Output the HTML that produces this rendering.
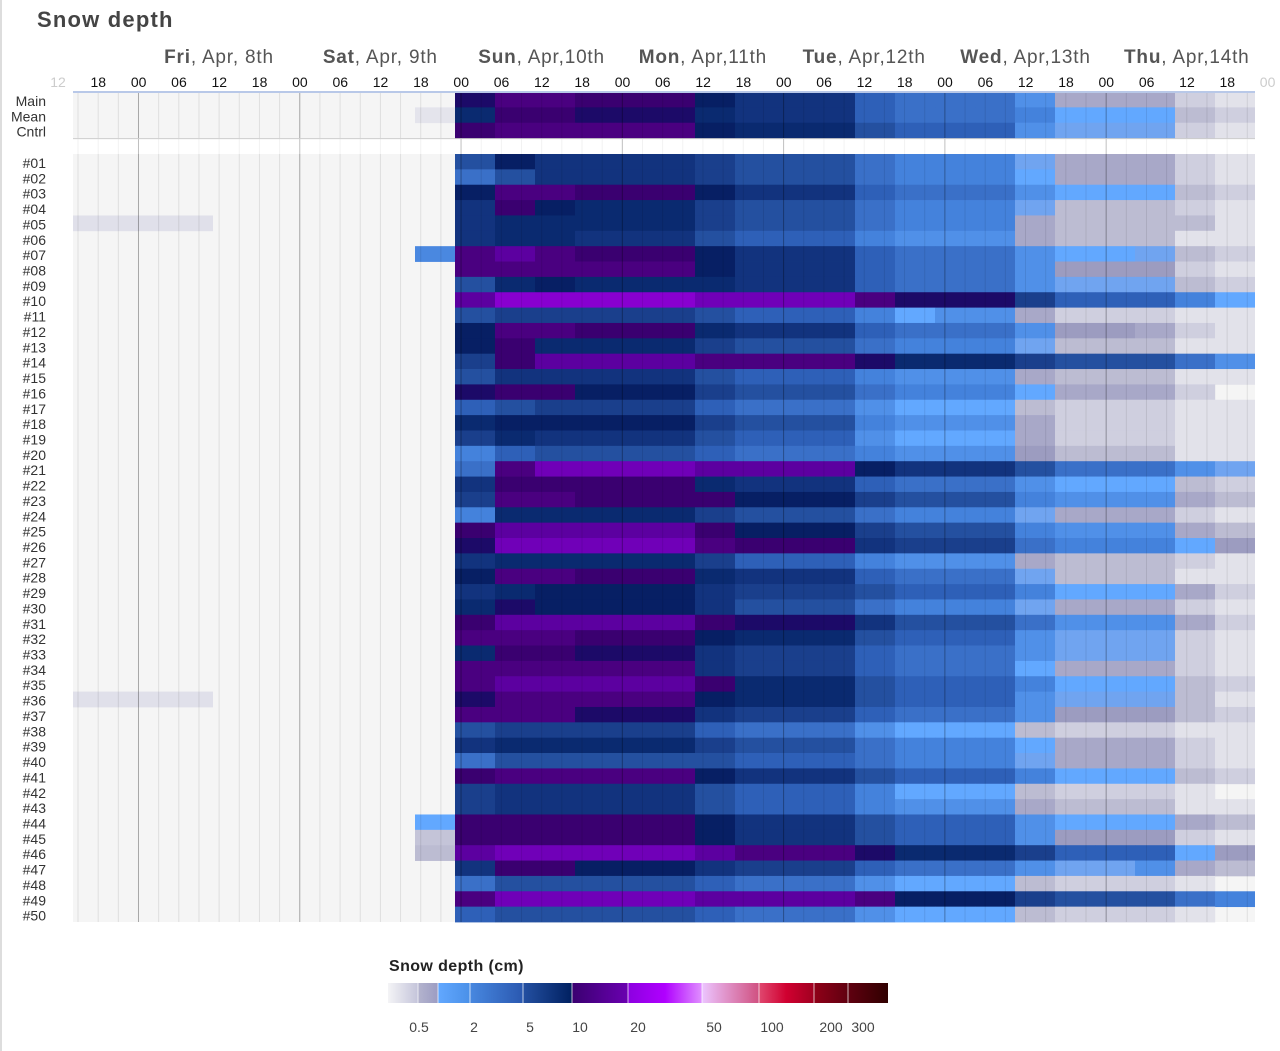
<!DOCTYPE html>
<html><head><meta charset="utf-8">
<style>
body{margin:0;width:1280px;height:1051px;background:#fff;font-family:"Liberation Sans",sans-serif;position:relative;overflow:hidden}
#pg{position:absolute;left:0;top:0;width:1280px;height:1051px;border-left:2px solid #ddd;box-sizing:border-box}
</style></head><body><div id="pg"></div>
<svg id="s" width="1280" height="1051" style="position:absolute;left:0;top:0" xmlns="http://www.w3.org/2000/svg"></svg>
<script>
const P={A:'#e2e2ea',B:'#cfcfdf',C:'#bcbcd2',D:'#a8a8c8',E:'#9c9cc0',F:'#62a8ff',G:'#70a4f0',H:'#5090e8',I:'#4482dc',J:'#3a70c8',K:'#2e60b8',L:'#2450a0',M:'#1a3f8c',N:'#12337e',O:'#0a2a70',P:'#071f64',Q:'#1c0a68',R:'#3a0070',S:'#4a0080',T:'#5c00a0',U:'#7000b8',V:'#8800d0','.':null};
function ex(spec){return spec.replace(/\s/g,'');}
const rows=[
['Main',"Q SS RRR P NNN K JJJ H DDD B A"],
['Mean',"O RR QQQ O NNN K JJJ I FFF C B"],
['Cntrl',"R SSSSS P OOO L KKK H GGG B A"],
null,
['#01',"L P NNNN M LLL J III G DDD B A"],
['#02',"J L NNNN M LLL J III F DDD B A"],
['#03',"P SSRRR P NNN K JJJ H FFF C B"],
['#04',"N R P OOO M LLL J III G CCC B A"],
['#05',"N O OOOO M LLL J III D CCC C A"],
['#06',"N OO NNN L KKK I HHH D CCC A A"],
['#07',"S T SRRR P NNN K JJJ H FFG C B"],
['#08',"SSSSSS P NNN K JJJ H EEE B A"],
['#09',"L O P OOO O NNN K JJJ H GGG C B"],
['#10',"T VVVVV U UUU S QQQ M KKK I F"],
['#11',"L MMMMM L KKK I FHH D BBB A A"],
['#12',"P SS RRR O NNN K JJJ H EED B A"],
['#13',"P R OOOO M LLL J III G CCC A A"],
['#14',"M R TTTT S SSS Q OOO M LLL J H"],
['#15',"L NNNNN L KKK I HHH D CCC A A"],
['#16',"Q RR PPP M LLL J III F DDD B ."],
['#17',"K L MMMM K JJJ H FFF C BBB A A"],
['#18',"O PPPPP M LLL I HHH D BBB A A"],
['#19',"M O NNNN L KKK H FFF D BBB A A"],
['#20',"I K LLLL K JJJ I HHH E CCC A A"],
['#21',"J S UUUU T TTT P NNN L JJJ H G"],
['#22',"N RRRRR O NNN K JJJ H FFF C B"],
['#23',"M SS RRR R PPP M LLL I HHH D C"],
['#24',"I OOOOO M LLL J III G DDD B A"],
['#25',"R TTTTT R PPP M LLL I HHH D C"],
['#26',"Q UUUUU S RRR N MMM J III F E"],
['#27',"N OOOOO M KKK I HHH D CCC B A"],
['#28',"P SS RRR O NNN K JJJ G CCC A A"],
['#29',"N O PPPP N MMM L KKK I FFF D B"],
['#30',"O Q PPPP N LLL J III G DDD B A"],
['#31',"R TTTTT R QQQ N LLL J HHH D B"],
['#32',"S SSRRR P OOO L KKK H GGG B A"],
['#33',"O RR QQQ N MMM K JJJ H GGG B A"],
['#34',"S SSSSS N MMM K JJJ F DDD B A"],
['#35',"S TTTTT R OOO L KKK I FFF C B"],
['#36',"Q SSSSS P OOO L KKK H GGG C A"],
['#37',"S SS QQQ N MMM K JJJ H EEE C B"],
['#38',"L MMMMM K JJJ H FFF C BBB A A"],
['#39',"N OOOOO M LLL J III F DDD B A"],
['#40',"J LLLLL L KKK J III G DDD B A"],
['#41',"R SSSSS P NNN L KKK I FFF C B"],
['#42',"M NNNNN L KKK I FFF C BBB A ."],
['#43',"M NNNNN L KKK I HHH D CCC A A"],
['#44',"R RRRRR P NNN L KKK H FFF D C"],
['#45',"R RRRRR P NNN L KKK H EEE B A"],
['#46',"T UUUUU T SSS Q OOO M KKK F E"],
['#47',"N RR PPP N MMM K JJJ H GGH D C"],
['#48',"J LLLLL K JJJ H FFF C BBB A ."],
['#49',"S UUUUU T TTT S PPP M LLL J I"],
['#50',"K LLLLL K JJJ H FFF C BBB A ."]
];
const extra={'Mean':[[415,455,'#e4e4ec']],'#05':[[73,213,'#e0e0ea']],'#36':[[73,213,'#e0e0ea']],'#07':[[415,455,'#4a88e0']],'#44':[[415,455,'#62a8ff']],'#45':[[415,455,'#c4c4d8']],'#46':[[415,455,'#bcbcd2']]};
const s=document.getElementById('s');let h='';
const X0=73,X1=1255,TOP=92,RH=15.36;
function rect(x,y,w,hh,c){h+=`<rect x="${x}" y="${y}" width="${w}" height="${hh}" fill="${c}"/>`;}
function text(x,y,t,sz,fill,anc,wt,ls){h+=`<text x="${x}" y="${y}" font-size="${sz}" fill="${fill}" text-anchor="${anc||'middle'}" font-family="Liberation Sans, sans-serif"${wt?` font-weight="${wt}"`:''}${ls?` letter-spacing="${ls}"`:''}>${t}</text>`;}
rect(X0,TOP,X1-X0,3*RH,'#f5f5f5');
const M0=154;
rect(X0,M0,X1-X0,50*RH,'#f5f5f5');
rows.forEach((r,i)=>{
 if(r===null){return;}
 const yy=i<3?TOP+i*RH:M0+(i-4)*RH;
 const codes=ex(r[1]);
 if(extra[r[0]])extra[r[0]].forEach(e=>rect(e[0],yy,e[1]-e[0],RH+0.4,e[2]));
 for(let b=0;b<codes.length&&b<20;b++){const c=P[codes[b]];if(!c)continue;const x=455+40*b;const w=b==19?X1-x:40.2;rect(x,yy,w,RH+0.4,c);}
 text(46,yy+14,r[0],14,'#333','end');
});
for(let k=0;k<60;k++){const x=78+20.16*k;if(x>X1)break;const hr=(15+3*k)%24;const dark=hr==0;
 const col=dark?'rgba(0,0,0,0.32)':'rgba(0,0,0,0.09)';
 h+=`<line x1="${x}" y1="${TOP}" x2="${x}" y2="${TOP+3*RH}" stroke="${col}" stroke-width="1"/>`;
 h+=`<line x1="${x}" y1="${M0}" x2="${x}" y2="${M0+50*RH}" stroke="${col}" stroke-width="1"/>`;
 h+=`<line x1="${x}" y1="${TOP+3*RH}" x2="${x}" y2="${M0}" stroke="${dark?'rgba(0,0,0,0.25)':'rgba(0,0,0,0.05)'}" stroke-width="1"/>`;
}
h+=`<line x1="${X0}" y1="${TOP}" x2="${X1}" y2="${TOP}" stroke="#b8c8e8" stroke-width="2"/>`;
h+=`<line x1="${X0}" y1="${TOP+3*RH+0.5}" x2="${X1}" y2="${TOP+3*RH+0.5}" stroke="#ccc" stroke-width="1"/>`;
const hrs=['12','18','00','06'];
for(let k=0;k<31;k++){const x=58+40.32*k;const lt=(k==0||k==30);text(x,87,hrs[k%4],14,lt?'#ccc':'#111');}
const days=[['Fri',', Apr, 8th'],['Sat',', Apr, 9th'],['Sun',', Apr,10th'],['Mon',', Apr,11th'],['Tue',', Apr,12th'],['Wed',', Apr,13th'],['Thu',', Apr,14th']];
days.forEach((d,i)=>{const x=219+161.3*i;h+=`<text x="${x}" y="63" font-size="19" letter-spacing="0.8" fill="#555" text-anchor="middle" font-family="Liberation Sans, sans-serif"><tspan font-weight="bold">${d[0]}</tspan>${d[1]}</text>`;});
text(37,27,'Snow depth',22,'#444','start','bold',1.2);
text(389,971,'Snow depth (cm)',16,'#222','start','bold',0.4);
h+=`<defs>`;
const segs=[[388,418,['#f4f4f6','#c4c4da']],[418,438,['#b4b4ce','#9c9cc2']],[438,470,['#62a8ff','#4a90e8']],[470,523,['#4888e0','#2a58b0']],[523,572,['#2450a2','#002060']],[572,628,['#3a0070','#6a00b0']],[628,702,['#8c00e0','#b000ff','#e090ff']],[702,759,['#ecc4ff','#d05080']],[759,814,['#e04870','#d00030','#a00020']],[814,848,['#900018','#600010']],[848,888,['#600010','#300000']]];
segs.forEach((g,i)=>{h+=`<linearGradient id="g${i}">`+g[2].map((c,j)=>`<stop offset="${j/(g[2].length-1)}" stop-color="${c}"/>`).join('')+`</linearGradient>`;});
h+=`</defs>`;
segs.forEach((g,i)=>{h+=`<rect x="${g[0]}" y="983" width="${g[1]-g[0]}" height="20" fill="url(#g${i})"/>`;if(i>0)h+=`<line x1="${g[0]}" y1="983" x2="${g[0]}" y2="1003" stroke="#fff" stroke-opacity="0.7"/>`;});
[['0.5',419],['2',474],['5',530],['10',580],['20',638],['50',714],['100',772],['200',831],['300',863]].forEach(l=>text(l[1],1032,l[0],14,'#444'));
s.innerHTML=h;
</script>
</body></html>
